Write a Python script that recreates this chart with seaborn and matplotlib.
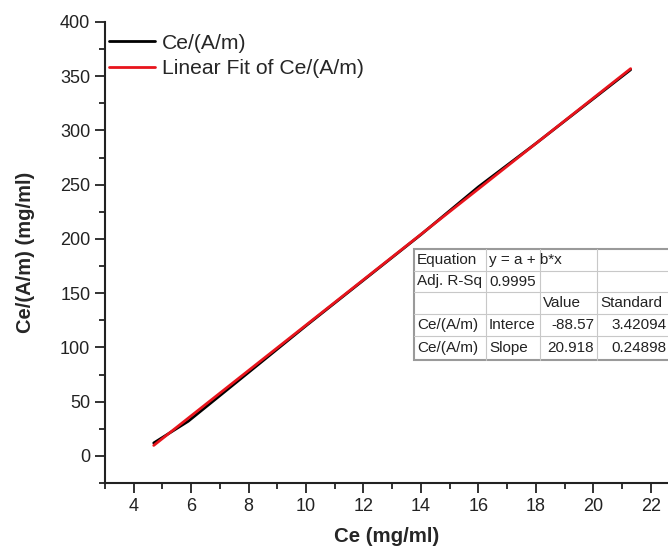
import numpy as np
import pandas as pd
import matplotlib
matplotlib.use("Agg")
import matplotlib.pyplot as plt
import seaborn as sns

# Measured equilibrium concentrations and Ce/(A/m)
ce = [4.7, 5.9, 8.0, 10.0, 12.0, 14.0, 16.0, 18.0, 21.3]
ce_am = [12.0, 32.0, 77.0, 120.0, 162.0, 204.0, 248.0, 288.0, 356.0]

# Linear fit parameters
intercept = -88.57
slope = 20.918
intercept_se = 3.42094
slope_se = 0.24898
adj_r2 = 0.9995

table_rows = [
    ["Equation", "y = a + b*x", "", ""],
    ["Adj. R-Sq", "0.9995", "", ""],
    ["", "", "Value", "Standard"],
    ["Ce/(A/m)", "Interce", "-88.57", "3.42094"],
    ["Ce/(A/m)", "Slope", "20.918", "0.24898"],
]

sns.set_style("ticks")
plt.rcParams["font.family"] = ["Liberation Sans", "DejaVu Sans"]

df = pd.DataFrame({"Ce": ce, "CeAm": ce_am})
fit_x = np.array([ce[0], ce[-1]])
fit_df = pd.DataFrame({"Ce": fit_x, "CeAm": intercept + slope * fit_x})

fig = plt.figure(figsize=(6.68, 5.49), dpi=100)
ax = fig.add_axes([0.157, 0.120, 0.843, 0.840])

sns.lineplot(data=df, x="Ce", y="CeAm", ax=ax, color="black", lw=2,
             label="Ce/(A/m)", sort=True)
sns.lineplot(data=fit_df, x="Ce", y="CeAm", ax=ax, color="#e8141c", lw=2,
             label="Linear Fit of Ce/(A/m)")

ax.set_xlim(3.0, 22.6)
ax.set_ylim(-25, 400)
ax.set_xticks(np.arange(4, 23, 2))
ax.set_xticks(np.arange(3, 23, 1), minor=True)
ax.set_yticks(np.arange(0, 401, 50))
ax.set_yticks(np.arange(-25, 401, 25), minor=True)
ax.tick_params(axis="both", which="major", direction="out", length=7, width=1.3,
               labelsize=13, color="#222222", labelcolor="#222222")
ax.tick_params(axis="x", which="major", pad=4)
ax.tick_params(axis="both", which="minor", direction="out", length=4, width=1.3,
               color="#222222")
for side in ["top", "right"]:
    ax.spines[side].set_visible(False)
for side in ["left", "bottom"]:
    ax.spines[side].set_linewidth(1.5)
    ax.spines[side].set_color("#222222")

ax.set_xlabel("Ce (mg/ml)", fontsize=14.7, fontweight="bold", labelpad=8)
ax.set_ylabel("Ce/(A/m) (mg/ml)", fontsize=14.5, fontweight="bold", labelpad=18)

leg = ax.legend(loc="upper left", frameon=False, fontsize=15.2, handlelength=2.2,
                handletextpad=0.33, borderaxespad=0.0, labelspacing=0.3,
                bbox_to_anchor=(-0.008, 0.993))

# Fit summary table
tl, tt, tb = 414, 249, 360
tax = fig.add_axes([tl / 668, 1 - tb / 549, (668 - tl) / 668, (tb - tt) / 549])
tax.set_xlim(0, 668 - tl)
tax.set_ylim(tb - tt, 0)
tax.axis("off")
col_edges = [0, 72, 126, 183, 270]
row_edges = [0, 22, 43, 65, 87, 111]
tax.add_patch(plt.Rectangle((0, 0), 270, 111, facecolor="white",
                            edgecolor="#9a9a9a", lw=1.5, clip_on=False))
for y in row_edges[1:-1]:
    tax.plot([0, 270], [y, y], color="#c8c8c8", lw=0.8, clip_on=False)
for x in col_edges[1:-1]:
    tax.plot([x, x], [0, 111], color="#c8c8c8", lw=0.8, clip_on=False)
for r, row in enumerate(table_rows):
    yc = (row_edges[r] + row_edges[r + 1]) / 2
    for c, txt in enumerate(row):
        if not txt:
            continue
        if c >= 2 and r >= 3:
            xr = col_edges[c + 1] - 3 if c < 3 else 253
            tax.text(xr, yc, txt, ha="right", va="center", fontsize=11,
                     color="#222222", clip_on=False)
        else:
            tax.text(col_edges[c] + 3, yc, txt, ha="left", va="center",
                     fontsize=11, color="#222222", clip_on=False)

fig.savefig("out.png", dpi=100)
